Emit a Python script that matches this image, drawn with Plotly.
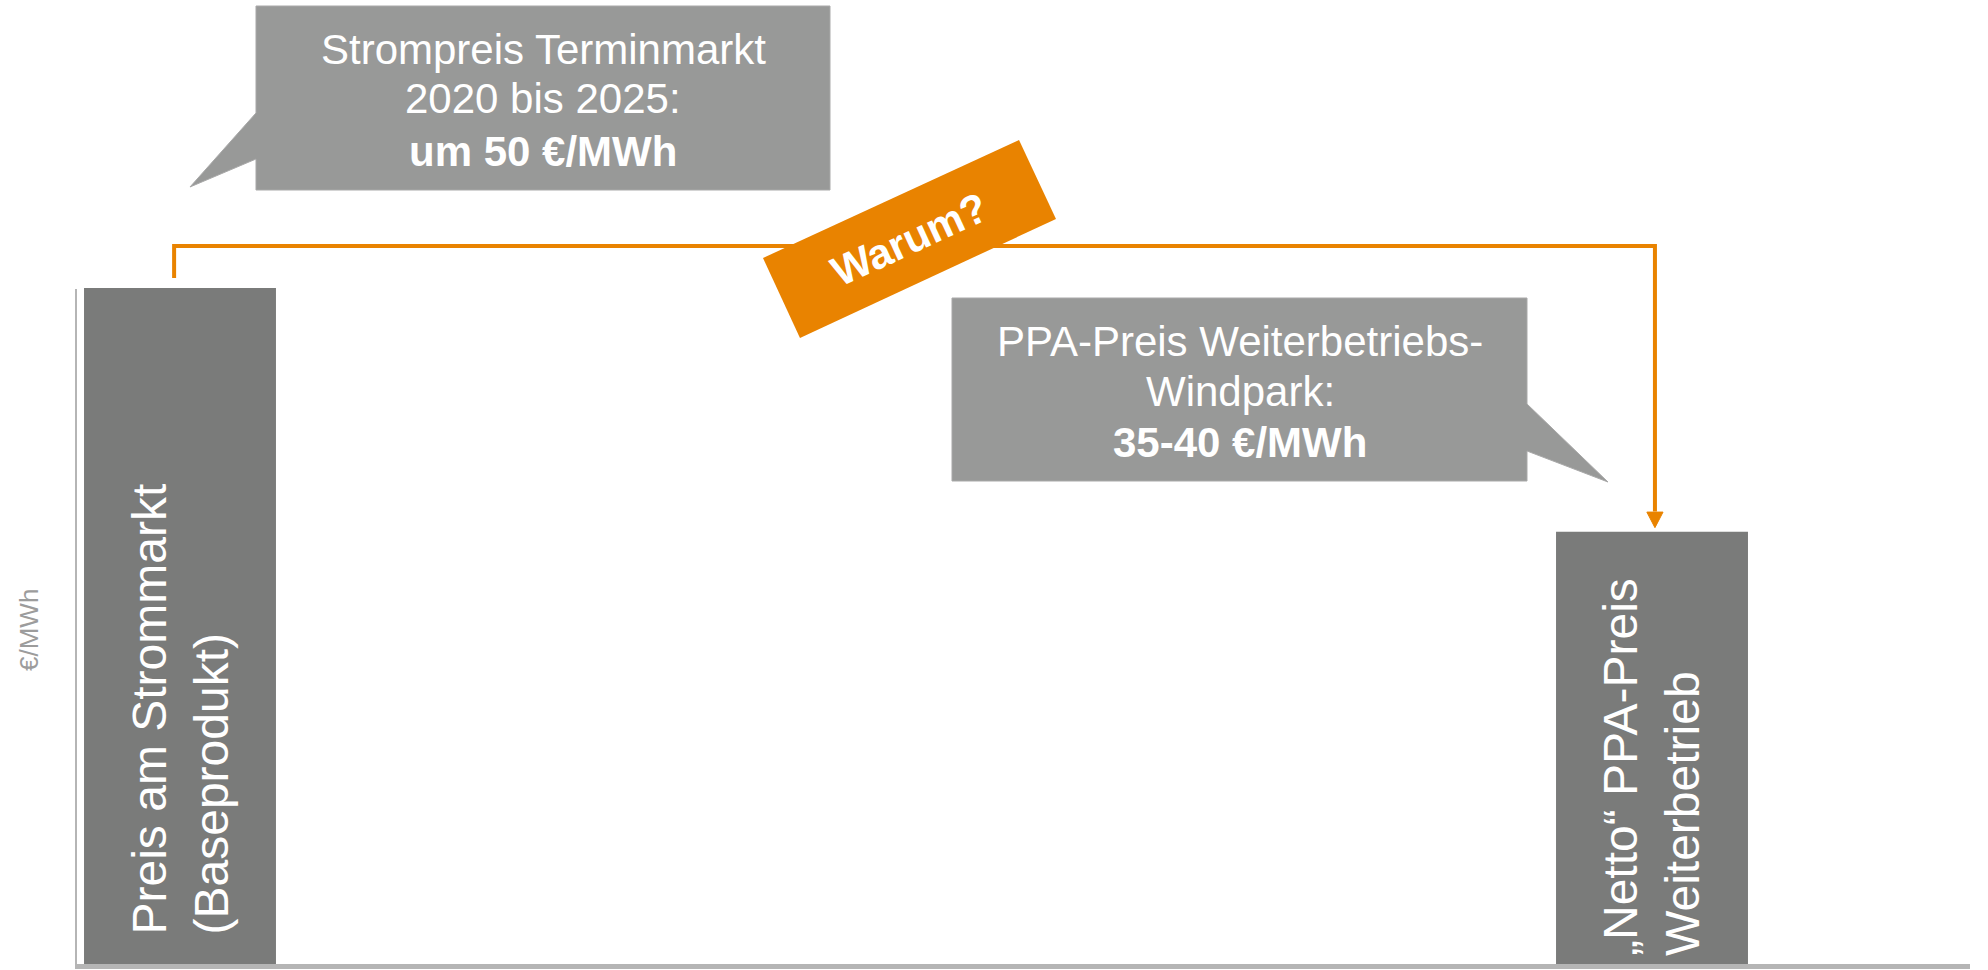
import plotly.graph_objects as go

# ---------------- data ----------------
categories = ["Preis am Strommarkt<br>(Baseprodukt)", "„Netto“ PPA-Preis<br>Weiterbetrieb"]
values = [50, 32]            # €/MWh (schematic)
x_pos = [0, 1]
y_title = "€/MWh"
callout1_lines = ["Strompreis Terminmarkt", "2020 bis 2025:", "<b>um 50 €/MWh</b>"]
callout2_lines = ["PPA-Preis Weiterbetriebs-", "Windpark:", "<b>35-40 €/MWh</b>"]
badge_text = "<b>Warum?</b>"

# ---------------- styles ----------------
W, H = 1988, 970
FONT = "Liberation Sans, Arial, sans-serif"
BAR_C = "#7a7b7a"
BOX_C = "#989998"
ORANGE = "#e98300"
AXIS_C = "#b5b5b5"


def P(x, y):
    """pixel -> paper coordinates"""
    return x / W, 1 - y / H


def path(points):
    s = ""
    for i, (x, y) in enumerate(points):
        px_, py_ = P(x, y)
        s += ("M" if i == 0 else "L") + f" {px_:.5f},{py_:.5f} "
    return s + "Z"


fig = go.Figure()
fig.add_trace(go.Bar(x=x_pos, y=values, width=0.1304,
                     marker=dict(color=BAR_C, line=dict(width=0)),
                     hoverinfo="skip"))

shapes = []
# axis lines
x0p, y0p = P(76, 289)
x1p, y1p = P(76, 967)
shapes.append(dict(type="line", xref="paper", yref="paper", x0=x0p, y0=y0p, x1=x1p, y1=y1p,
                   line=dict(color=AXIS_C, width=2)))
x0p, y0p = P(75, 966.5)
x1p, y1p = P(1970, 966.5)
shapes.append(dict(type="line", xref="paper", yref="paper", x0=x0p, y0=y0p, x1=x1p, y1=y1p,
                   line=dict(color=AXIS_C, width=5)))

# orange connector (data coords, relative to bar tops)
xa = x_pos[0] - 0.004
xb = x_pos[1] + 0.002
y_top = values[0] + 3.1
y_start = values[0] + 0.74
y_end = values[1] + 1.5
shapes.append(dict(type="path", xref="x", yref="y",
                   path=f"M {xa},{y_start} L {xa},{y_top} L {xb},{y_top} L {xb},{y_end}",
                   line=dict(color=ORANGE, width=4), fillcolor="rgba(0,0,0,0)"))
hw = 0.0055
shapes.append(dict(type="path", xref="x", yref="y",
                   path=f"M {xb-hw},{values[1]+1.45} L {xb+hw},{values[1]+1.45} L {xb},{values[1]+0.3} Z",
                   line=dict(color=ORANGE, width=1), fillcolor=ORANGE))

# callout boxes
shapes.append(dict(type="path", xref="paper", yref="paper",
                   path=path([(256, 6), (830, 6), (830, 190), (256, 190), (256, 159), (190, 187), (256, 113)]),
                   fillcolor=BOX_C, line=dict(color="#a9a9a9", width=1)))
shapes.append(dict(type="path", xref="paper", yref="paper",
                   path=path([(952, 298), (1527, 298), (1527, 404), (1608, 482), (1527, 451), (1527, 481), (952, 481)]),
                   fillcolor=BOX_C, line=dict(color="#a9a9a9", width=1)))
# Warum badge
shapes.append(dict(type="path", xref="paper", yref="paper",
                   path=path([(763, 258), (1019, 140), (1056, 219), (800, 338)]),
                   fillcolor=ORANGE, line=dict(width=0)))

ann = []
# bar labels
label_bottom_px = [937, 958]
for xi, v, txt, bp in zip(x_pos, values, categories, label_bottom_px):
    yb = (965 - bp) / 13.54
    ann.append(dict(x=xi, y=yb, xref="x", yref="y", text=txt, showarrow=False,
                    textangle=-90, xanchor="center", yanchor="bottom", align="left",
                    font=dict(family=FONT, size=48, color="white")))

# callout texts
for cx, centers, lines in [(543, [49, 99, 151], callout1_lines), (1240, [341, 391, 443], callout2_lines)]:
    for cy, t in zip(centers, lines):
        xp, yp = P(cx, cy)
        ann.append(dict(x=xp, y=yp, xref="paper", yref="paper", text=t, showarrow=False,
                        xanchor="center", yanchor="middle",
                        font=dict(family=FONT, size=42, color="white")))

# badge text
xp, yp = P(909, 239)
ann.append(dict(x=xp, y=yp, xref="paper", yref="paper", text=badge_text, showarrow=False,
                textangle=-24.75, xanchor="center", yanchor="middle",
                font=dict(family=FONT, size=42, color="white")))

# y axis title
xp, yp = P(29, 630)
ann.append(dict(x=xp, y=yp, xref="paper", yref="paper", text=y_title, showarrow=False,
                textangle=-90, xanchor="center", yanchor="middle",
                font=dict(family=FONT, size=26, color="#9c9c9c")))

fig.update_layout(
    width=W, height=H,
    margin=dict(l=0, r=0, t=0, b=0),
    paper_bgcolor="white", plot_bgcolor="white",
    showlegend=False,
    xaxis=dict(range=[-0.12228, 1.22826], visible=False, fixedrange=True),
    yaxis=dict(range=[-0.37, 71.27], visible=False, fixedrange=True),
    shapes=shapes, annotations=ann,
)

fig.write_html("out.html", config={"displayModeBar": False},
               post_script="document.body.style.margin='0';document.body.style.overflow='hidden';")
